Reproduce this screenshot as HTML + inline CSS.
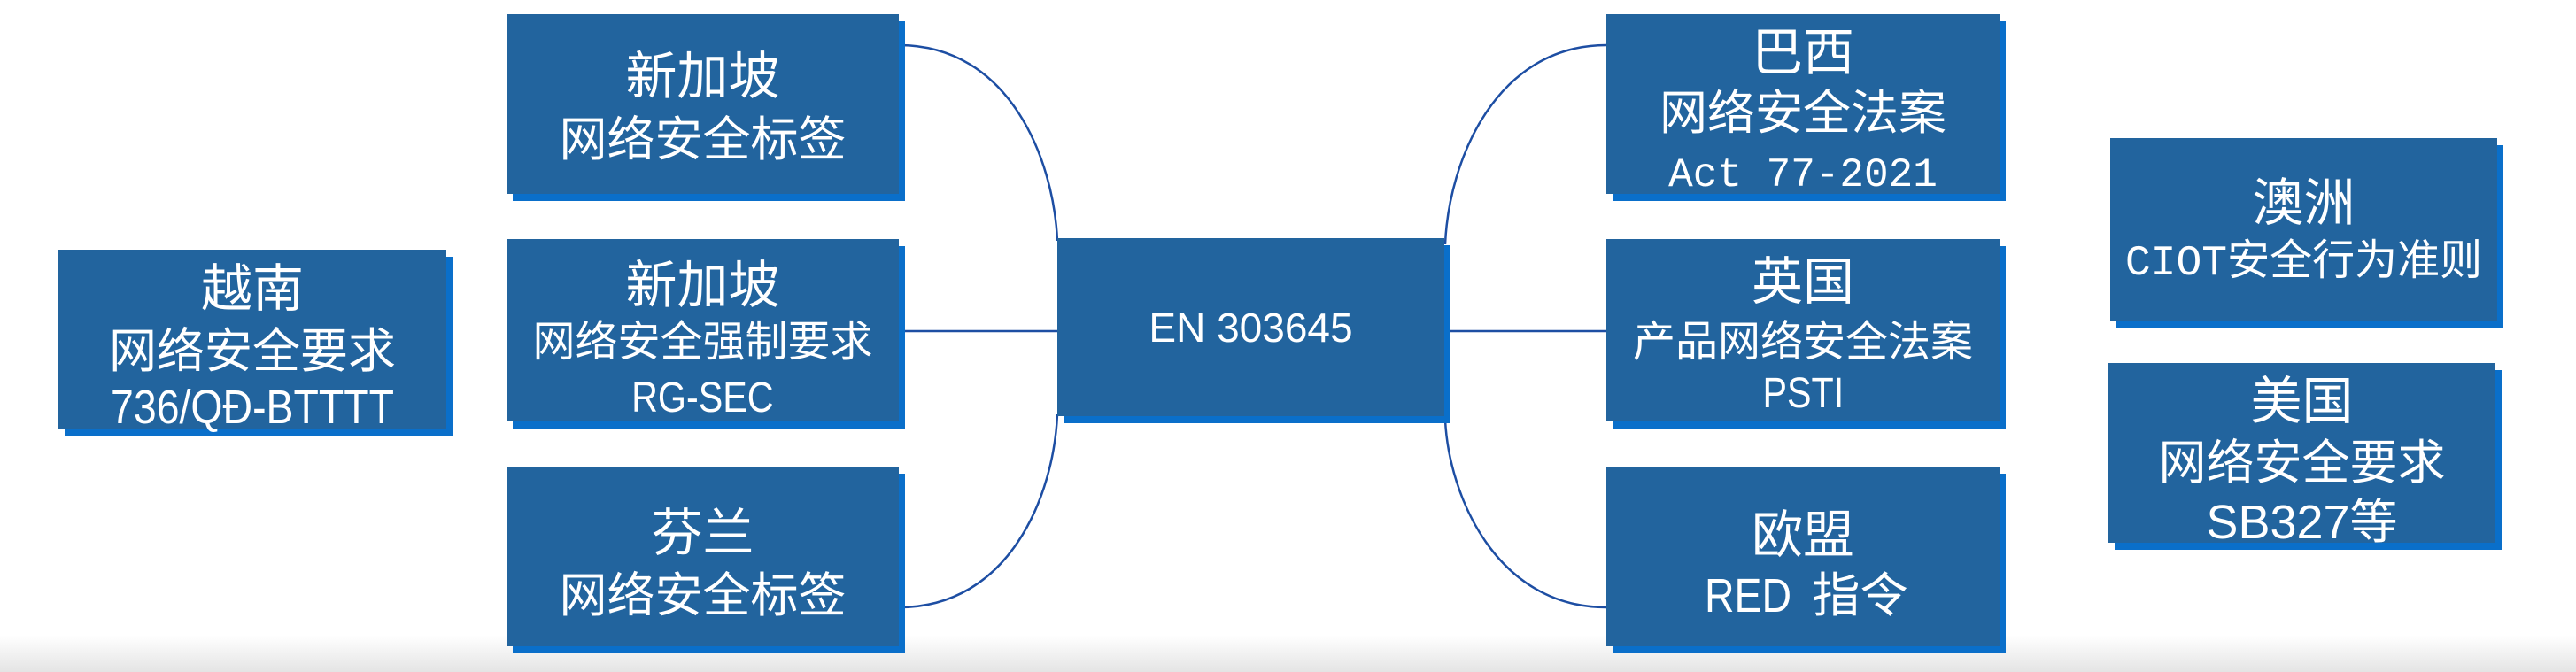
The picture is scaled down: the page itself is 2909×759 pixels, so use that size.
<!DOCTYPE html>
<html><head><meta charset="utf-8"><style>
body{margin:0;width:2909px;height:759px;background:#fff;position:relative;overflow:hidden;font-family:"Liberation Sans","Noto Sans CJK SC",sans-serif;}
.b{position:absolute;background:#22649e;box-shadow:7px 8px 0 #0a6fca;color:#fff;}
.l{position:absolute;left:0;right:0;height:70px;line-height:70px;text-align:center;white-space:nowrap;}
.t{font-size:58px}
.s{font-size:54px}
.s2{font-size:48px}
.m{font-family:"Liberation Mono","Noto Sans CJK SC",monospace;}
.n{display:inline-block;transform:scaleX(.86);}
.fade{position:absolute;left:0;top:718px;width:2909px;height:41px;background:linear-gradient(#fff,#e4e4e4);}
svg{position:absolute;left:0;top:0}
</style></head><body>
<div class="fade"></div>
<svg width="2909" height="759"><g fill="none" stroke="#1d4ea3" stroke-width="2.5">
<path d="M1015,51 C1140,51 1190,180 1194,272"/>
<path d="M1015,374 L1194,374"/>
<path d="M1015,686 C1140,686 1190,560 1194,468"/>
<path d="M1814,51 C1690,51 1636,180 1632,276"/>
<path d="M1632,374 L1814,374"/>
<path d="M1814,686 C1690,686 1636,560 1632,474"/>
</g></svg>

<div class="b" style="left:66px;top:282px;width:438px;height:202px">
<div class="l t" style="top:10px">越南</div>
<div class="l s" style="top:80px">网络安全要求</div>
<div class="l s" style="top:143px"><span class="n">736/QĐ-BTTTT</span></div>
</div>

<div class="b" style="left:572px;top:16px;width:443px;height:203px">
<div class="l t" style="top:36px">新加坡</div>
<div class="l s" style="top:107px">网络安全标签</div>
</div>
<div class="b" style="left:572px;top:270px;width:443px;height:206px">
<div class="l t" style="top:18px">新加坡</div>
<div class="l s2" style="top:82px">网络安全强制要求</div>
<div class="l s2" style="top:145px"><span class="n">RG-SEC</span></div>
</div>
<div class="b" style="left:572px;top:527px;width:443px;height:203px">
<div class="l t" style="top:41px">芬兰</div>
<div class="l s" style="top:111px">网络安全标签</div>
</div>

<div class="b" style="left:1194px;top:269px;width:437px;height:201px">
<div class="l" style="top:66px;font-size:46px">EN 303645</div>
</div>

<div class="b" style="left:1814px;top:16px;width:444px;height:203px">
<div class="l t" style="top:9px">巴西</div>
<div class="l s" style="top:77px">网络安全法案</div>
<div class="l s m" style="top:147px;font-size:46px">Act 77-2021</div>
</div>
<div class="b" style="left:1814px;top:270px;width:444px;height:206px">
<div class="l t" style="top:14px">英国</div>
<div class="l s2" style="top:82px">产品网络安全法案</div>
<div class="l s2" style="top:140px"><span class="n">PSTI</span></div>
</div>
<div class="b" style="left:1814px;top:527px;width:444px;height:203px">
<div class="l t" style="top:43px">欧盟</div>
<div class="l s" style="top:111px"><span class="n">RED</span> 指令</div>
</div>

<div class="b" style="left:2383px;top:156px;width:437px;height:206px">
<div class="l t" style="top:39px">澳洲</div>
<div class="l s2" style="top:104px"><span class="m">CIOT</span>安全行为准则</div>
</div>
<div class="b" style="left:2381px;top:410px;width:437px;height:203px">
<div class="l t" style="top:9px">美国</div>
<div class="l s" style="top:78px">网络安全要求</div>
<div class="l s" style="top:145px">SB327等</div>
</div>
</body></html>
